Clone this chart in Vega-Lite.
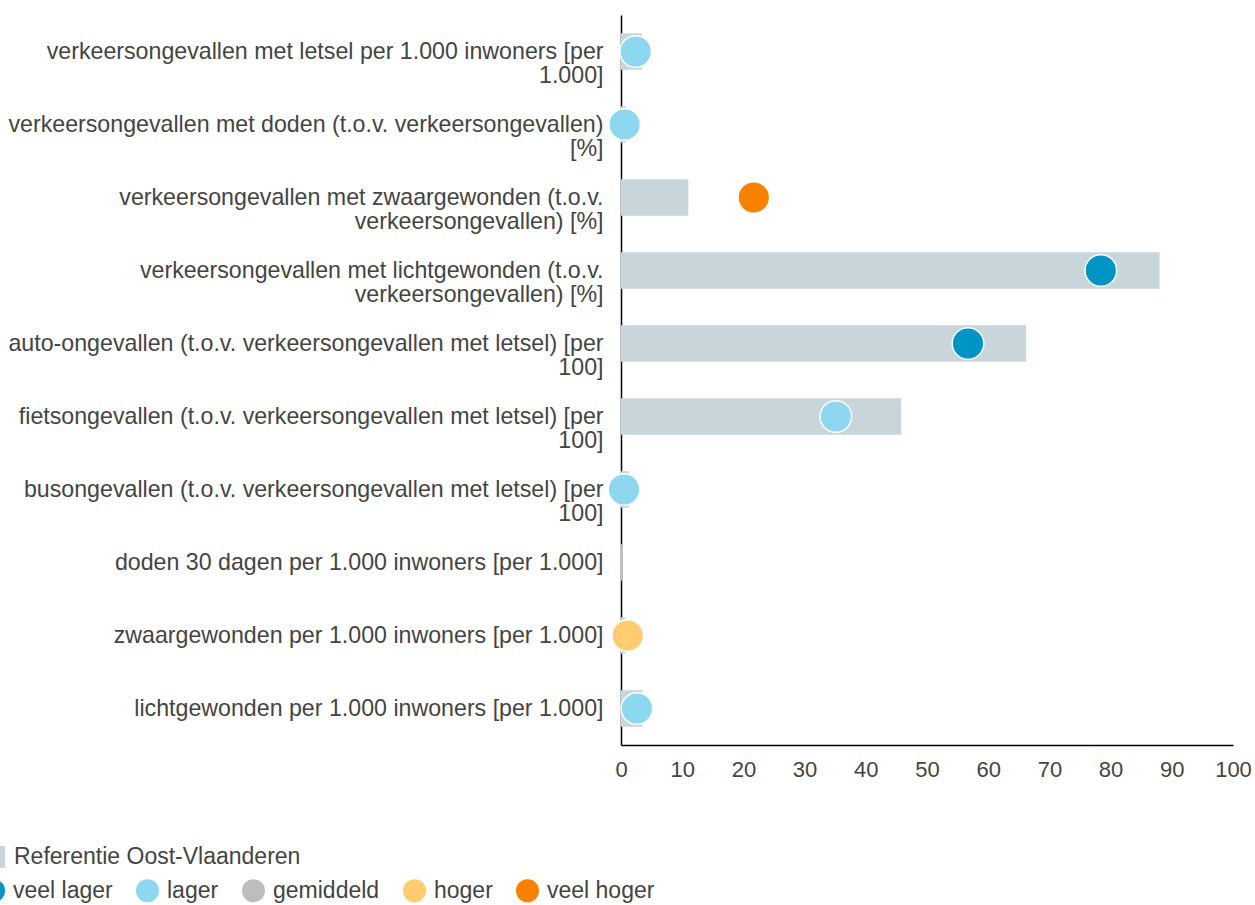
{
  "$schema": "https://vega.github.io/schema/vega-lite/v6.json",
  "width": 612,
  "height": 730,
  "autosize": "none",
  "padding": {"left": 621, "top": 15, "right": 22, "bottom": 160},
  "config": {
    "font": "Liberation Sans",
    "view": {"stroke": null},
    "axis": {"labelFont": "Liberation Sans", "labelColor": "#444444", "labelFontSize": 22, "grid": false, "ticks": false, "domainColor": "#000000", "domainWidth": 1.5},
    "legend": {"labelFont": "Liberation Sans", "labelColor": "#444444", "labelFontSize": 23, "labelLimit": 600}
  },
  "data": {
    "values": [
      {"cat": "verkeersongevallen met letsel per 1.000 inwoners [per|1.000]", "ref": 3.4, "val": 2.4, "klasse": "lager"},
      {"cat": "verkeersongevallen met doden (t.o.v. verkeersongevallen)|[%]", "ref": 0.8, "val": 0.6, "klasse": "lager"},
      {"cat": "verkeersongevallen met zwaargewonden (t.o.v.|verkeersongevallen) [%]", "ref": 11.0, "val": 21.7, "klasse": "veel hoger"},
      {"cat": "verkeersongevallen met lichtgewonden (t.o.v.|verkeersongevallen) [%]", "ref": 88.0, "val": 78.4, "klasse": "veel lager"},
      {"cat": "auto-ongevallen (t.o.v. verkeersongevallen met letsel) [per|100]", "ref": 66.2, "val": 56.7, "klasse": "veel lager"},
      {"cat": "fietsongevallen (t.o.v. verkeersongevallen met letsel) [per|100]", "ref": 45.8, "val": 35.1, "klasse": "lager"},
      {"cat": "busongevallen (t.o.v. verkeersongevallen met letsel) [per|100]", "ref": 1.3, "val": 0.5, "klasse": "lager"},
      {"cat": "doden 30 dagen per 1.000 inwoners [per 1.000]", "ref": 0.15, "val": null, "klasse": null},
      {"cat": "zwaargewonden per 1.000 inwoners [per 1.000]", "ref": 0.7, "val": 1.1, "klasse": "hoger"},
      {"cat": "lichtgewonden per 1.000 inwoners [per 1.000]", "ref": 3.5, "val": 2.6, "klasse": "lager"}
    ]
  },
  "encoding": {
    "y": {"field": "cat", "type": "nominal", "sort": null, "title": null,
      "scale": {"paddingInner": 0.5, "paddingOuter": 0.25},
      "axis": {"labelExpr": "split(datum.value, '|')", "labelLimit": 700, "labelPadding": 18, "labelLineHeight": 24, "labelBaseline": "middle", "labelFontSize": 23.2}}
  },
  "layer": [
    {
      "mark": {"type": "bar"},
      "encoding": {
        "x": {"field": "ref", "type": "quantitative", "title": null,
          "scale": {"domain": [0, 100], "nice": false},
          "axis": {"values": [0,10,20,30,40,50,60,70,80,90,100], "labelPadding": 14, "labelFlush": false}},
        "color": {"datum": "Referentie Oost-Vlaanderen", "type": "nominal",
          "scale": {"range": ["#c8d5da"]},
          "legend": {"title": null, "orient": "none", "legendX": -639, "legendY": 830, "symbolType": "square", "symbolSize": 484, "padding": 0, "labelOffset": 8}}
      }
    },
    {
      "transform": [{"filter": "datum.val != null"}],
      "mark": {"type": "point", "filled": true, "opacity": 1, "size": 1000, "stroke": "#ffffff", "strokeWidth": 1.5, "strokeOpacity": 1},
      "encoding": {
        "x": {"field": "val", "type": "quantitative"},
        "color": {"field": "klasse", "type": "nominal",
          "scale": {"domain": ["veel lager", "lager", "gemiddeld", "hoger", "veel hoger"], "range": ["#0094c4", "#8dd8f0", "#bdbdbd", "#ffcc70", "#f88200"]},
          "legend": {"title": null, "orient": "none", "direction": "horizontal", "legendX": -639, "legendY": 864, "symbolType": "circle", "symbolSize": 529, "symbolOpacity": 1, "symbolStrokeWidth": 0, "padding": 0, "columnPadding": 23, "labelOffset": 8}}
      }
    }
  ],
  "resolve": {"scale": {"color": "independent"}, "legend": {"color": "independent"}}
}
